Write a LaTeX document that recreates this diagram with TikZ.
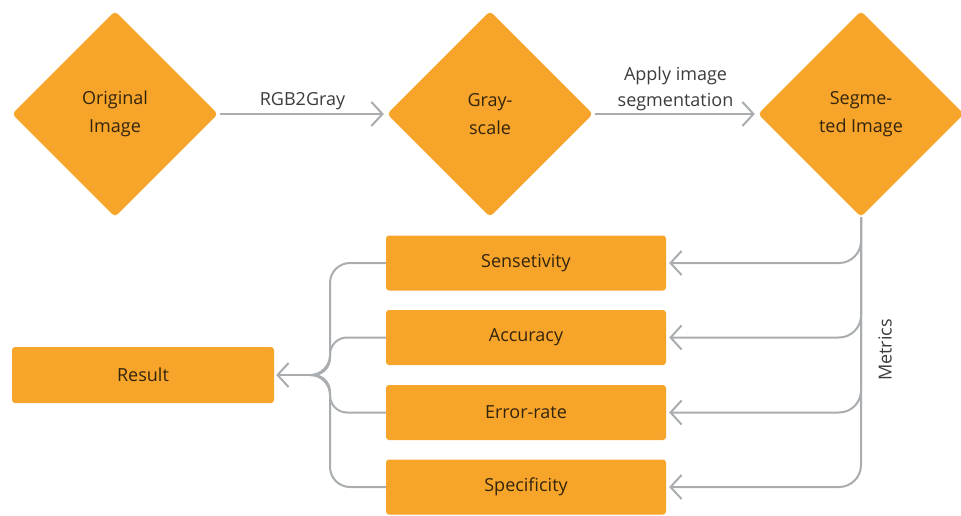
\documentclass[tikz,border=0pt]{standalone}
\usepackage{fontspec}
\setmainfont{Open Sans}
\usetikzlibrary{shapes.geometric,arrows.meta}
\definecolor{orangefill}{HTML}{F7A52A}
\definecolor{darktext}{HTML}{33240E}
\definecolor{labeltext}{HTML}{3C3C3C}
\definecolor{linegray}{HTML}{A9ADAF}
\tikzset{
  dia/.style={diamond, fill=orangefill, rounded corners=4pt, inner sep=0pt,
    minimum width=206pt, minimum height=206pt, align=center, text=darktext,
    font=\fontsize{18}{28}\selectfont},
  boxnode/.style={rectangle, fill=orangefill, rounded corners=3pt, inner sep=0pt,
    minimum width=280pt, minimum height=55pt, text=darktext,
    font=\fontsize{18}{22}\selectfont},
  lbl/.style={text=labeltext, font=\fontsize{18}{26}\selectfont, align=center},
  conn/.style={draw=linegray, line width=2pt},
  arr/.style={conn, -{Straight Barb[length=11pt,width=24pt,line width=2pt]}},
}
\begin{document}
\begin{tikzpicture}[x=1pt,y=-1pt]
\useasboundingbox (0,0) rectangle (961,516);
\node[dia] (D1) at (115,114) {Original\\Image};
\node[dia] (D2) at (490,114) {Gray-\\scale};
\node[dia] (D3) at (861,114) {Segme-\\ted Image};
\node[boxnode] (S1) at (526,263) {Sensetivity};
\node[boxnode] (S2) at (526,337.5) {Accuracy};
\node[boxnode] (S3) at (526,412.5) {Error-rate};
\node[boxnode] (S4) at (526,487) {Specificity};
\node[boxnode, minimum width=262pt, minimum height=56pt] (R) at (143,375) {Result};

\draw[arr, shorten <=2pt, shorten >=3pt] (D1.east) -- (D2.west) node[lbl, midway, above=0pt] (L1) {RGB2Gray};
\draw[arr, shorten <=2pt, shorten >=3pt] (D2.east) -- (D3.west) node[lbl, midway, above=-1pt] (L2) {Apply image\\segmentation};

\foreach \s in {S1,S2,S3,S4}{
  \draw[arr, rounded corners=22pt, shorten >=3pt] (D3.south) |- (\s.east);
}
\node[lbl, rotate=90] (MT) at (885,350) {Metrics};

\coordinate (J) at (330,375);
\coordinate (M) at (312,375);
\draw[conn, rounded corners=20pt] (S1.west) -| (J) -- (M);
\draw[conn, rounded corners=20pt] (S4.west) -| (J) -- (M);
\draw[conn, rounded corners=17pt] (S2.west) -| (J) -- (M);
\draw[conn, rounded corners=17pt] (S3.west) -| (J) -- (M);
\draw[arr, shorten >=2pt] (M) -- (R.east);
\end{tikzpicture}
\end{document}
